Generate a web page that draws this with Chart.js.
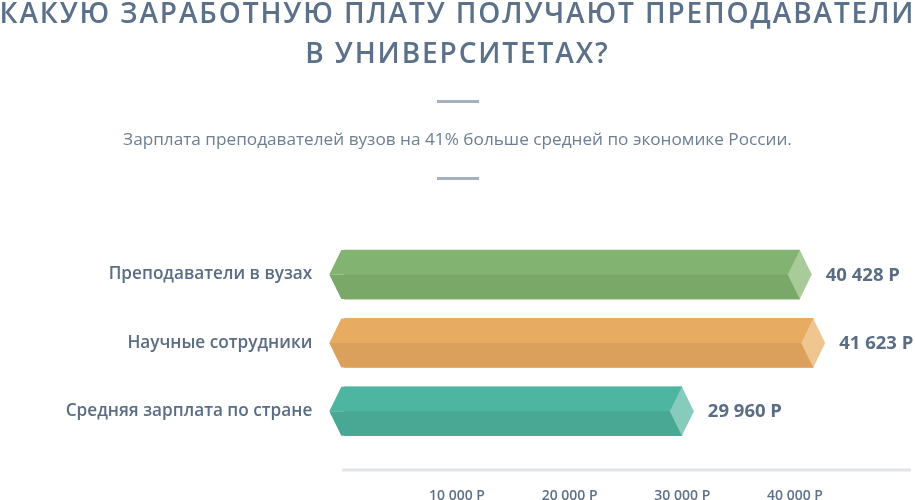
<!DOCTYPE html>
<html><head><meta charset="utf-8">
<script src="https://cdn.jsdelivr.net/npm/chart.js@4.4.0/dist/chart.umd.min.js"></script>
<style>
html,body{margin:0;padding:0;background:#fff;width:915px;height:500px;overflow:hidden}
#wrap{position:relative;width:915px;height:500px;overflow:hidden}
#c{position:absolute;left:0;top:0}
.t{position:absolute;left:-60px;width:1035px;text-align:center;font-family:"Open Sans";font-weight:600;font-size:28px;letter-spacing:1.9px;color:#5b7089;line-height:35px;white-space:nowrap}
.sub{position:absolute;left:0;width:915px;text-align:center;font-family:"Open Sans";font-weight:400;font-size:17.2px;color:#6c7f94;top:127px;line-height:24px;white-space:nowrap}
.dv{position:absolute;left:437px;width:42px;height:3px;background:#a5b2be}
</style></head>
<body><div id="wrap">
<canvas id="c" width="915" height="500"></canvas>
<div class="t" style="top:-5px">КАКУЮ ЗАРАБОТНУЮ ПЛАТУ ПОЛУЧАЮТ ПРЕПОДАВАТЕЛИ</div>
<div class="t" style="top:35px">В УНИВЕРСИТЕТАХ?</div>
<div class="dv" style="top:100px"></div>
<div class="sub">Зарплата преподавателей вузов на 41% больше средней по экономике России.</div>
<div class="dv" style="top:177px"></div>
</div>
<script>
const categories = ["Преподаватели в вузах", "Научные сотрудники", "Средняя зарплата по стране"];
const values = [40428, 41623, 29960];
const tickValues = [10000, 20000, 30000, 40000];
const tickLabels = ["10 000 Р", "20 000 Р", "30 000 Р", "40 000 Р"];
const topColors = ["#83b371", "#e8ab62", "#4eb5a0"];
const botColors = ["#7aa868", "#dca05d", "#48a893"];
const capColors = ["#a9cb9a", "#f0c690", "#86cbbc"];

function fmt(v){ return String(v).replace(/\B(?=(\d{3})+(?!\d))/g, " ") + " Р"; }

const shapePlugin = {
  id: 'shapes',
  afterDatasetsDraw(chart){
    const ctx = chart.ctx;
    const meta = chart.getDatasetMeta(0);
    meta.data.forEach((el, i) => {
      const p = el.getProps(['x','y','base','height'], true);
      const x = p.x, y = p.y, base = p.base, h = p.height/2;
      const top = y - h, bot = y + h, c = 12;
      const L = base - 3, P = base - 15;
      ctx.save();
      ctx.fillStyle = topColors[i];
      ctx.beginPath(); ctx.moveTo(P, y); ctx.lineTo(L, top); ctx.lineTo(x, top); ctx.lineTo(x - c, y); ctx.closePath(); ctx.fill();
      ctx.fillStyle = botColors[i];
      ctx.beginPath(); ctx.moveTo(P, y); ctx.lineTo(x - c, y); ctx.lineTo(x, bot); ctx.lineTo(L, bot); ctx.closePath(); ctx.fill();
      ctx.fillStyle = capColors[i];
      ctx.beginPath(); ctx.moveTo(x - c, y); ctx.lineTo(x, top); ctx.lineTo(x + c, y); ctx.lineTo(x, bot); ctx.closePath(); ctx.fill();
      ctx.fillStyle = '#596d84';
      ctx.font = 'bold 18.5px "Open Sans"';
      ctx.textAlign = 'left'; ctx.textBaseline = 'middle';
      ctx.fillText(fmt(values[i]), x + 26, y + 1);
      ctx.restore();
    });
  },
  afterDraw(chart){
    const xs = chart.scales.x, ctx = chart.ctx;
    ctx.save();
    ctx.strokeStyle = '#dfe4e9'; ctx.lineWidth = 3;
    ctx.beginPath(); ctx.moveTo(xs.left - 2, xs.top + 24.5); ctx.lineTo(xs.right, xs.top + 24.5); ctx.stroke();
    ctx.restore();
  }
};

new Chart(document.getElementById('c'), {
  type: 'bar',
  data: {
    labels: categories,
    datasets: [{ data: values, backgroundColor: topColors, barThickness: 49, borderWidth: 0 }]
  },
  options: {
    indexAxis: 'y',
    responsive: false,
    animation: false,
    events: [],
    layout: { padding: { top: 240.4, right: 4, bottom: 0, left: 0 } },
    plugins: { legend: { display: false }, tooltip: { enabled: false } },
    scales: {
      x: {
        min: 0, max: 50300,
        grid: { display: false, drawTicks: false },
        border: { display: false },
        afterFit(s){ s.height = 54.6; },
        afterBuildTicks(s){ s.ticks = tickValues.map(v => ({ value: v })); },
        ticks: {
          padding: 42,
          color: '#5e7188',
          font: { family: 'Open Sans', size: 14, weight: '600' },
          callback(v){ const k = tickValues.indexOf(v); return k >= 0 ? tickLabels[k] : ''; }
        }
      },
      y: {
        grid: { display: false, drawTicks: false },
        border: { display: false },
        afterFit(s){ s.width = 344.3; },
        ticks: {
          padding: 32,
          color: '#596d84',
          font: { family: 'Open Sans', size: 17.2, weight: '600' }
        }
      }
    }
  },
  plugins: [shapePlugin]
});
</script>
</body></html>
